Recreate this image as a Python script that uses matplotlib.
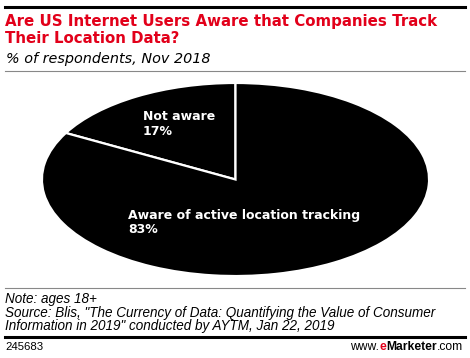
import matplotlib.pyplot as plt
from matplotlib.lines import Line2D

# data
labels = ["Not aware", "Aware of active location tracking"]
values = [17, 83]
title_lines = ["Are US Internet Users Aware that Companies Track",
               "Their Location Data?"]
subtitle = "% of respondents, Nov 2018"
note_lines = ["Note: ages 18+",
              "Source: Blis, \"The Currency of Data: Quantifying the Value of Consumer",
              "Information in 2019\" conducted by AYTM, Jan 22, 2019"]
chart_id = "245683"

W, H = 470, 358
RED = "#e2001a"
plt.rcParams['font.family'] = ['Liberation Sans', 'DejaVu Sans']
WIDE = ['DejaVu Sans']

fig = plt.figure(figsize=(W / 100, H / 100), dpi=100)


def fx(x):
    return x / W


def fy(y):
    return 1 - y / H


def hline(y, lw, color):
    fig.add_artist(Line2D([fx(5), fx(465)], [fy(y), fy(y)], lw=lw, color=color,
                          transform=fig.transFigure))


# header / footer rules
hline(6.5, 2.2, "black")
hline(70.5, 0.8, "#888888")
hline(287.5, 0.8, "#888888")
hline(336.5, 2.2, "black")

# title + subtitle
fig.text(fx(5), fy(26), title_lines[0], color=RED, fontsize=10.8, fontweight='bold',
         family=WIDE, va='baseline')
fig.text(fx(5), fy(43), title_lines[1], color=RED, fontsize=10.8, fontweight='bold',
         family=WIDE, va='baseline')
fig.text(fx(6), fy(63), subtitle, color="black", fontsize=10.4, style='italic',
         family=WIDE, va='baseline')

# pie (stretched into an ellipse)
ax = fig.add_axes([fx(40), fy(277), fx(391), 195 / H])
ax.pie(values, colors=["black", "black"], startangle=90, counterclock=True,
       wedgeprops=dict(edgecolor="white", linewidth=1.6))
ax.set_aspect('auto')
ax.set_xlim(-1.01, 1.01)
ax.set_ylim(-1.01, 1.01)

label_pos = [(0.263, 0.855), (0.225, 0.35)]
for lab, val, (px, py) in zip(labels, values, label_pos):
    ax.text(px, py, f"{lab}\n{val}%", transform=ax.transAxes, color="white",
            fontsize=9.0, fontweight='bold', family=WIDE, va='top', ha='left',
            linespacing=1.15)

# footer notes
for i, line in enumerate(note_lines):
    fig.text(fx(5), fy(303 + i * 13.5), line, fontsize=9.75, style='italic', va='baseline')

fig.text(fx(5), fy(350), chart_id, fontsize=8.2, va='baseline')

# www.eMarketer.com, right aligned at x=463
parts = [("www.", "black", "normal"), ("e", RED, "bold"),
         ("Marketer", "black", "bold"), (".com", "black", "normal")]
renderer = fig.canvas.get_renderer()
texts = []
for s, c, w in parts:
    t = fig.text(0, fy(350), s, color=c, fontweight=w, fontsize=8.7, va='baseline')
    texts.append(t)
widths = [t.get_window_extent(renderer).width for t in texts]
x = 463 - sum(widths)
for t, wdt in zip(texts, widths):
    t.set_x(fx(x))
    x += wdt

fig.savefig("out.png", dpi=100)
